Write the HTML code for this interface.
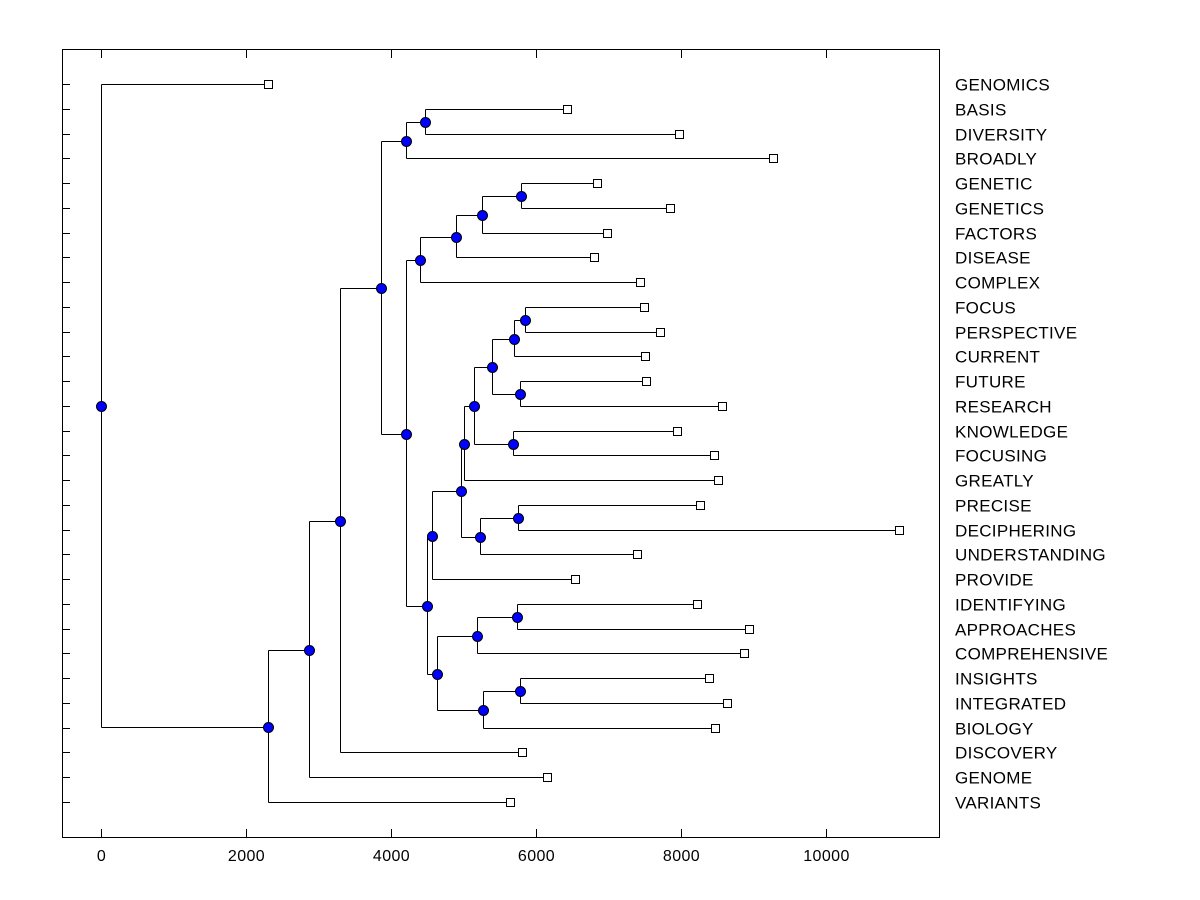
<!DOCTYPE html>
<html><head><meta charset="utf-8"><style>
body{margin:0;background:#fff;}
svg{display:block;font-family:"Liberation Sans",Arial,sans-serif;}
</style></head><body>
<svg id="chart" width="1200" height="900" xmlns="http://www.w3.org/2000/svg" shape-rendering="crispEdges"></svg>
<script>
const labels=["GENOMICS","BASIS","DIVERSITY","BROADLY","GENETIC","GENETICS","FACTORS","DISEASE","COMPLEX","FOCUS","PERSPECTIVE","CURRENT","FUTURE","RESEARCH","KNOWLEDGE","FOCUSING","GREATLY","PRECISE","DECIPHERING","UNDERSTANDING","PROVIDE","IDENTIFYING","APPROACHES","COMPREHENSIVE","INSIGHTS","INTEGRATED","BIOLOGY","DISCOVERY","GENOME","VARIANTS"];
const leafValues=[2300,6430,7970,9270,6840,7850,6980,6800,7430,7490,7710,7500,7520,8570,7940,8460,8510,8260,11010,7390,6540,8220,8940,8870,8390,8630,8470,5810,6150,5640];
const mergeIds=["bd","bb","g1","g2","g3","g4","f1","f2","f3","f4","k1","f5","f6","p1","p2","f7","f8","i1","i2","i3","i4","i5","i6","m1","m2","m3","m4","m5","root"];
const mergeChildren=[["BASIS","DIVERSITY"],["bd","BROADLY"],["GENETIC","GENETICS"],["g1","FACTORS"],["g2","DISEASE"],["g3","COMPLEX"],["FOCUS","PERSPECTIVE"],["f1","CURRENT"],["FUTURE","RESEARCH"],["f2","f3"],["KNOWLEDGE","FOCUSING"],["f4","k1"],["f5","GREATLY"],["PRECISE","DECIPHERING"],["p1","UNDERSTANDING"],["f6","p2"],["f7","PROVIDE"],["IDENTIFYING","APPROACHES"],["i1","COMPREHENSIVE"],["INSIGHTS","INTEGRATED"],["i3","BIOLOGY"],["i2","i4"],["f8","i5"],["g4","i6"],["bb","m1"],["m2","DISCOVERY"],["m3","GENOME"],["m4","VARIANTS"],["GENOMICS","m5"]];
const mergeHeights=[4470,4210,5790,5260,4900,4400,5850,5700,5780,5390,5680,5140,5010,5750,5230,4970,4570,5740,5190,5780,5270,4630,4500,4210,3860,3300,2870,2300,0];
const xTicks=[0,2000,4000,6000,8000,10000];

const svg=document.getElementById('chart');
const NS="http://www.w3.org/2000/svg";
const X=v=>Math.round(101+v*0.0725)+0.5;
const Y=i=>Math.round(84+i*(802-84)/29)+0.5;
function mk(tag,attrs){const e=document.createElementNS(NS,tag);for(const k in attrs)e.setAttribute(k,attrs[k]);svg.appendChild(e);return e;}
const box=mk('rect',{x:62.5,y:49.5,width:877,height:788,fill:'none',stroke:'#000','stroke-width':1});


xTicks.forEach(t=>{
  const x=X(t);
  const a=mk('line',{x1:x,x2:x,y1:837,y2:829,stroke:'#000'});
  
  
  const b=mk('line',{x1:x,x2:x,y1:50,y2:58,stroke:'#000'});
  
  
  const tx=mk('text',{x:x,y:861,'text-anchor':'middle','font-size':16,'letter-spacing':0.4});
  tx.textContent=t;
  
  
});
const pos={};
labels.forEach((l,i)=>{pos[l]={x:X(leafValues[i]),y:Y(i)};});
mergeIds.forEach((id,i)=>{
  const [a,b]=mergeChildren[i];
  const x=X(mergeHeights[i]);
  const ya=pos[a].y,yb=pos[b].y;
  const v=mk('line',{x1:x,x2:x,y1:ya,y2:yb,stroke:'#000'});
  
  
  [a,b].forEach(c=>{
    const h=mk('line',{x1:x,x2:pos[c].x,y1:pos[c].y,y2:pos[c].y,stroke:'#000'});
    
    
  });
  pos[id]={x:x,y:Math.round((ya+yb)/2)+0.5};
});
labels.forEach((l,i)=>{
  const y=Y(i);
  const t=mk('line',{x1:62,x2:70,y1:y,y2:y,stroke:'#000'});
  
  
  const s=mk('rect',{x:pos[l].x-4,y:y-4,width:8,height:8,fill:'#fff',stroke:'#000'});
  
  
  const tx=mk('text',{x:955,y:y+6,'font-size':17,'letter-spacing':0.3});
  tx.textContent=l;
  
  
});
mergeIds.forEach(id=>{
  const c=mk('circle',{cx:pos[id].x,cy:pos[id].y,r:5,fill:'#0000ff',stroke:'#000','shape-rendering':'auto'});
  
  
});
</script>
</body></html>
